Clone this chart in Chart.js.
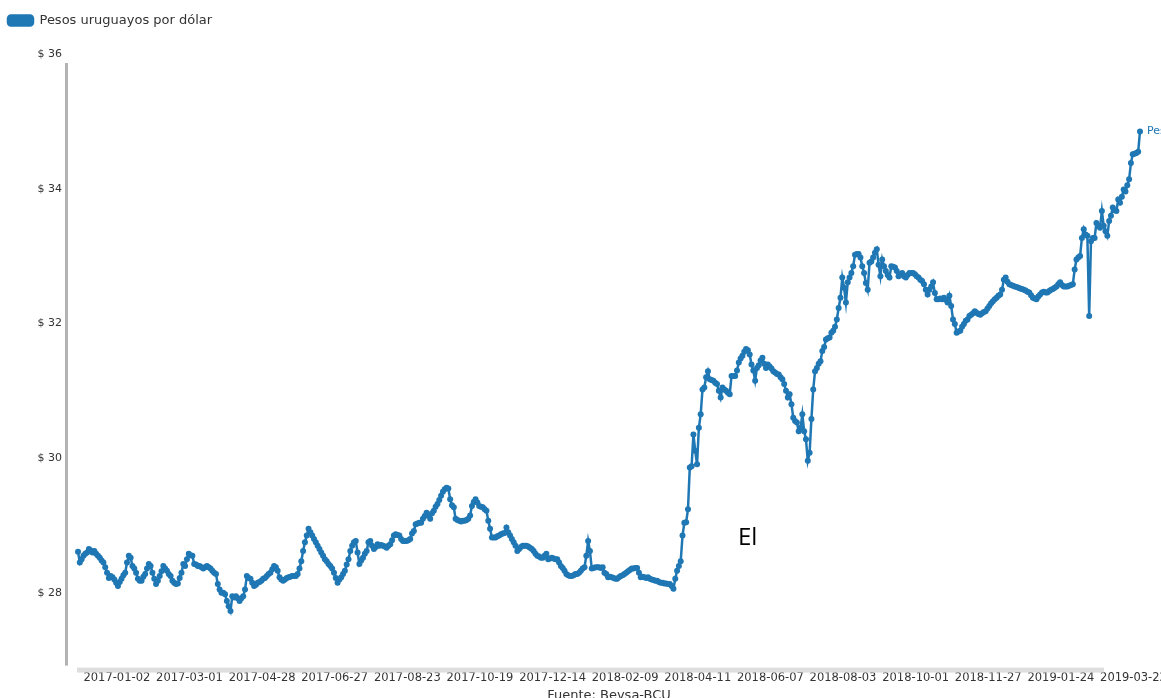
<!DOCTYPE html>
<html>
<head>
<meta charset="utf-8">
<script src="https://cdn.jsdelivr.net/npm/chart.js@4.4.0/dist/chart.umd.min.js"></script>
<style>
  html, body { margin: 0; padding: 0; background: #fff; overflow: hidden; }
  #wrap { position: relative; width: 1161px; height: 709px; }
  #nota { position: absolute; left: 738px; top: 519px; font: 24px "Open Sans", sans-serif; color: #000; }
</style>
</head>
<body>
<div id="wrap">
  <canvas id="grafico"></canvas>
  <div id="nota">El</div>
</div>
<script>
const serieNombre = 'Pesos uruguayos por dólar';
const fuente = 'Fuente: Bevsa-BCU';

// fechas que se ven en el eje x (una cada 40 cotizaciones)
const tickLabels = [
  '2017-01-02', '2017-03-01', '2017-04-28', '2017-06-27', '2017-08-23',
  '2017-10-19', '2017-12-14', '2018-02-09', '2018-04-11', '2018-06-07',
  '2018-08-03', '2018-10-01', '2018-11-27', '2019-01-24', '2019-03-22'
];
const tickOffset = 3;
const tickStep = 40;

// cotizacion diaria
const valores = [
  28.61, 28.45, 28.50, 28.55, 28.58, 28.60, 28.65, 28.63, 28.60, 28.62,
  28.58, 28.55, 28.52, 28.48, 28.45, 28.38, 28.30, 28.22, 28.25, 28.23,
  28.20, 28.15, 28.10, 28.16, 28.21, 28.26, 28.30, 28.45, 28.55, 28.52,
  28.40, 28.36, 28.30, 28.21, 28.18, 28.18, 28.24, 28.28, 28.36, 28.43,
  28.40, 28.30, 28.21, 28.13, 28.18, 28.25, 28.32, 28.40, 28.36, 28.33,
  28.28, 28.25, 28.18, 28.15, 28.13, 28.14, 28.22, 28.30, 28.43, 28.40,
  28.50, 28.58, 28.56, 28.55, 28.43, 28.42, 28.40, 28.40, 28.38, 28.36,
  28.38, 28.40, 28.38, 28.36, 28.33, 28.30, 28.28, 28.13, 28.05, 28.00,
  28.00, 27.98, 27.88, 27.80, 27.73, 27.95, 27.93, 27.95, 27.92, 27.88,
  27.92, 27.95, 28.05, 28.25, 28.22, 28.21, 28.15, 28.10, 28.12, 28.15,
  28.16, 28.18, 28.21, 28.22, 28.25, 28.28, 28.30, 28.35, 28.40, 28.38,
  28.33, 28.23, 28.20, 28.18, 28.20, 28.22, 28.23, 28.24, 28.25, 28.25,
  28.25, 28.28, 28.36, 28.47, 28.62, 28.75, 28.85, 28.95, 28.90, 28.85,
  28.80, 28.75, 28.70, 28.65, 28.60, 28.55, 28.50, 28.47, 28.43, 28.40,
  28.36, 28.30, 28.22, 28.15, 28.20, 28.23, 28.28, 28.33, 28.42, 28.50,
  28.62, 28.70, 28.75, 28.77, 28.60, 28.43, 28.48, 28.52, 28.58, 28.62,
  28.75, 28.77, 28.70, 28.65, 28.68, 28.72, 28.70, 28.71, 28.70, 28.69,
  28.67, 28.70, 28.72, 28.78, 28.85, 28.87, 28.86, 28.85, 28.80, 28.77,
  28.77, 28.77, 28.78, 28.80, 28.88, 28.92, 29.02, 29.03, 29.04, 29.04,
  29.10, 29.14, 29.19, 29.15, 29.10, 29.18, 29.22, 29.28, 29.32, 29.38,
  29.44, 29.50, 29.54, 29.56, 29.55, 29.39, 29.30, 29.27, 29.10, 29.08,
  29.07, 29.06, 29.07, 29.07, 29.08, 29.10, 29.15, 29.29, 29.35, 29.39,
  29.34, 29.29, 29.28, 29.27, 29.24, 29.22, 29.07, 28.95, 28.82, 28.82,
  28.82, 28.84, 28.85, 28.87, 28.88, 28.89, 28.97, 28.90, 28.85, 28.80,
  28.75, 28.70, 28.62, 28.65, 28.68, 28.70, 28.70, 28.70, 28.69, 28.67,
  28.65, 28.62, 28.58, 28.55, 28.54, 28.52, 28.52, 28.55, 28.58, 28.50,
  28.51, 28.52, 28.51, 28.50, 28.50, 28.45, 28.40, 28.37, 28.33, 28.28,
  28.26, 28.25, 28.25, 28.26, 28.28, 28.28, 28.30, 28.33, 28.36, 28.38,
  28.55, 28.77, 28.62, 28.36, 28.37, 28.38, 28.38, 28.38, 28.37, 28.38,
  28.30, 28.28, 28.23, 28.24, 28.23, 28.22, 28.21, 28.21, 28.23, 28.25,
  28.26, 28.28, 28.30, 28.32, 28.34, 28.36, 28.36, 28.37, 28.37, 28.30,
  28.23, 28.24, 28.23, 28.22, 28.23, 28.21, 28.20, 28.19, 28.18, 28.18,
  28.16, 28.15, 28.15, 28.14, 28.14, 28.13, 28.13, 28.10, 28.06, 28.21,
  28.33, 28.40, 28.47, 28.85, 29.04, 29.05, 29.24, 29.86, 29.88, 30.35,
  30.11, 29.91, 30.45, 30.65, 31.02, 31.05, 31.20, 31.29, 31.17, 31.16,
  31.15, 31.12, 31.10, 31.00, 30.90, 31.05, 31.02, 31.00, 30.97, 30.95,
  31.22, 31.22, 31.22, 31.30, 31.42, 31.48, 31.52, 31.58, 31.62, 31.60,
  31.54, 31.39, 31.30, 31.15, 31.34, 31.38, 31.45, 31.49, 31.40, 31.34,
  31.39, 31.36, 31.33, 31.29, 31.27, 31.25, 31.24, 31.20, 31.17, 31.10,
  31.00, 30.90, 30.95, 30.80, 30.60, 30.55, 30.53, 30.40, 30.45, 30.65,
  30.40, 30.28, 29.96, 30.08, 30.58, 31.02, 31.29, 31.34, 31.40, 31.44,
  31.59, 31.65, 31.76, 31.78, 31.79, 31.86, 31.89, 31.95, 32.06, 32.23,
  32.38, 32.68, 32.53, 32.31, 32.61, 32.68, 32.75, 32.85, 33.02, 33.03,
  33.03, 32.98, 32.85, 32.75, 32.60, 32.50, 32.90, 32.92, 32.98, 33.05,
  33.10, 32.87, 32.70, 32.95, 32.85, 32.78, 32.72, 32.68, 32.85, 32.84,
  32.83, 32.78, 32.70, 32.73, 32.75, 32.70, 32.68, 32.72, 32.75, 32.75,
  32.75, 32.73, 32.70, 32.68, 32.65, 32.63, 32.58, 32.50, 32.43, 32.50,
  32.55, 32.61, 32.45, 32.36, 32.36, 32.37, 32.36, 32.38, 32.35, 32.31,
  32.41, 32.26, 32.06, 31.99, 31.86, 31.88, 31.89, 31.95, 31.99, 32.04,
  32.06, 32.11, 32.13, 32.15, 32.18, 32.16, 32.14, 32.13, 32.15, 32.17,
  32.18, 32.22, 32.26, 32.30, 32.33, 32.36, 32.38, 32.41, 32.43, 32.50,
  32.65, 32.68, 32.62, 32.58, 32.57, 32.56, 32.55, 32.54, 32.53, 32.52,
  32.51, 32.50, 32.49, 32.47, 32.46, 32.42, 32.38, 32.37, 32.36, 32.40,
  32.43, 32.46, 32.47, 32.46, 32.46, 32.48, 32.50, 32.51, 32.53, 32.55,
  32.58, 32.61, 32.57, 32.55, 32.55, 32.55, 32.56, 32.57, 32.58, 32.80,
  32.95, 32.98, 33.00, 33.27, 33.40, 33.32, 33.30, 32.11, 33.22, 33.27,
  33.27, 33.49, 33.45, 33.42, 33.67, 33.45, 33.37, 33.30, 33.52, 33.60,
  33.72, 33.68, 33.67, 33.84, 33.79, 33.88, 33.99, 33.96, 34.05, 34.14,
  34.38, 34.51, 34.52, 34.53, 34.55, 34.85
];

const etiquetas = valores.map((v, i) =>
  i >= tickOffset && (i - tickOffset) % tickStep === 0 ? tickLabels[(i - tickOffset) / tickStep] : ''
);

const azul = '#1f77b4';
const gris = '#333';
const familia = '"DejaVu Sans", sans-serif';

// espacio extra debajo de la leyenda
const separadorLeyenda = {
  id: 'separadorLeyenda',
  beforeInit(chart) {
    const fitOriginal = chart.legend.fit;
    chart.legend.fit = function () {
      fitOriginal.bind(chart.legend)();
      this.height += 17;
    };
  }
};

// lineas de los ejes como en el original
const lineasEjes = {
  id: 'lineasEjes',
  beforeDatasetsDraw(chart) {
    const { ctx, chartArea: a } = chart;
    ctx.save();
    ctx.fillStyle = '#b3b3b3';
    ctx.fillRect(a.left - 13, a.top + 9, 3, a.bottom - a.top - 9);
    ctx.fillStyle = '#dedede';
    ctx.fillRect(a.left - 1, a.bottom + 2, a.right - 35 - a.left, 5);
    ctx.restore();
  }
};

// nombre de la serie al final de la linea
const etiquetaFinal = {
  id: 'etiquetaFinal',
  afterDatasetsDraw(chart) {
    const meta = chart.getDatasetMeta(0);
    const p = meta.data[meta.data.length - 1];
    const ctx = chart.ctx;
    ctx.save();
    ctx.font = '11px ' + familia;
    ctx.fillStyle = azul;
    ctx.textBaseline = 'middle';
    ctx.fillText(serieNombre, p.x + 7, p.y);
    ctx.restore();
  }
};

new Chart(document.getElementById('grafico'), {
  type: 'line',
  data: {
    labels: etiquetas,
    datasets: [{
      label: serieNombre,
      data: valores,
      borderColor: azul,
      backgroundColor: azul,
      borderWidth: 2.5,
      pointRadius: 3,
      pointBorderWidth: 0,
      pointBackgroundColor: azul,
      tension: 0,
      clip: false
    }]
  },
  options: {
    responsive: true,
    maintainAspectRatio: false,
    animation: false,
    layout: { padding: { top: 6, right: 21, left: 0, bottom: 0 } },
    plugins: {
      legend: {
        align: 'start',
        labels: {
          boxWidth: 25,
          boxHeight: 10,
          padding: 8,
          useBorderRadius: true,
          borderRadius: 3,
          color: gris,
          font: { family: familia, size: 13 }
        }
      },
      tooltip: { enabled: false }
    },
    scales: {
      x: {
        grid: { display: false, drawTicks: false },
        border: { display: false },
        ticks: {
          autoSkip: false,
          maxRotation: 0,
          align: 'start',
          padding: 6,
          color: gris,
          font: { family: familia, size: 11.5 }
        },
        title: {
          display: true,
          text: fuente,
          color: gris,
          font: { family: familia, size: 13 },
          padding: { top: -4, bottom: 6 }
        }
      },
      y: {
        min: 26.92,
        max: 36,
        grid: { display: false, drawTicks: false },
        border: { display: false },
        ticks: {
          stepSize: 2,
          padding: 16,
          color: gris,
          font: { family: familia, size: 11 },
          callback: (v) => (v % 2 === 0 ? '$ ' + v : null)
        },
        afterFit: (scale) => { scale.width = 78; }
      }
    }
  },
  plugins: [separadorLeyenda, lineasEjes, etiquetaFinal]
});
</script>
</body>
</html>
